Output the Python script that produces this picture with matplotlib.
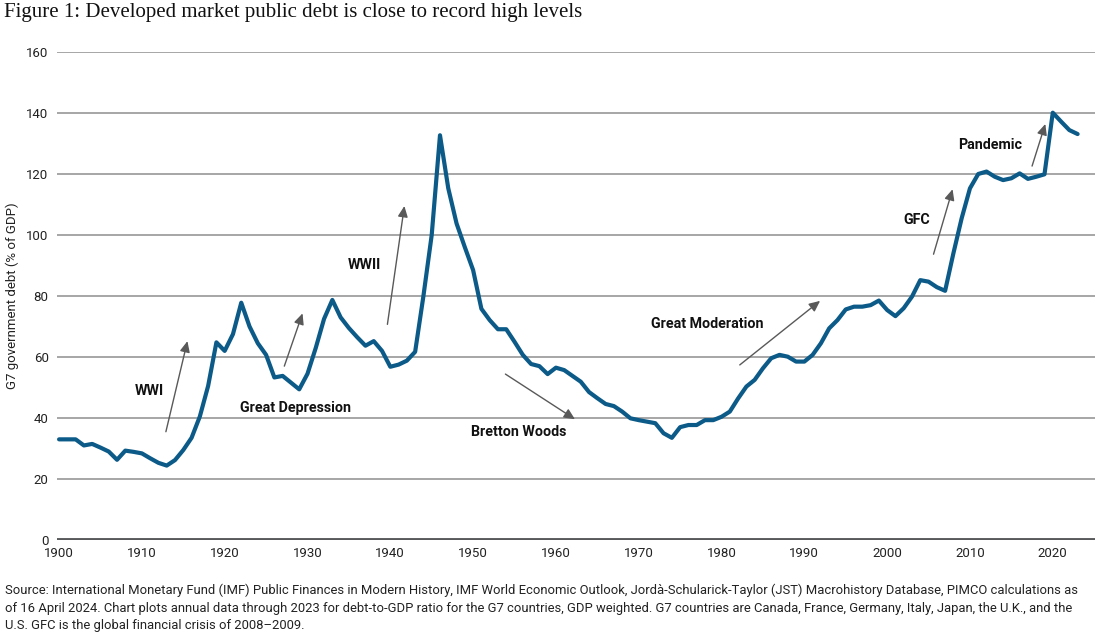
import matplotlib
matplotlib.use("Agg")
import matplotlib.pyplot as plt
import numpy as np

years = list(range(1900, 2024))
debt = [
    33.0, 33.0, 33.0, 31.0, 31.5, 30.3, 29.0, 26.3, 29.3, 28.9,   # 1900s
    28.4, 26.8, 25.3, 24.4, 26.2, 29.5, 33.5, 40.5, 50.5, 64.8,   # 1910s
    62.0, 67.5, 77.8, 70.0, 64.5, 60.7, 53.3, 53.8, 51.6, 49.4,   # 1920s
    54.5, 63.0, 72.5, 78.7, 73.0, 69.5, 66.5, 63.7, 65.2, 62.0,   # 1930s
    56.8, 57.5, 58.8, 61.7, 80.0, 100.0, 132.7, 115.3, 103.8, 96.0,  # 1940s
    88.5, 75.8, 72.1, 69.1, 69.1, 65.0, 60.7, 57.7, 57.0, 54.4,   # 1950s
    56.5, 55.7, 53.8, 51.9, 48.5, 46.5, 44.6, 43.9, 42.1, 39.9,   # 1960s
    39.3, 38.8, 38.3, 35.0, 33.5, 37.0, 37.7, 37.7, 39.3, 39.3,   # 1970s
    40.4, 42.1, 46.4, 50.3, 52.5, 56.3, 59.6, 60.7, 60.1, 58.5,   # 1980s
    58.5, 60.7, 64.5, 69.4, 72.1, 75.6, 76.5, 76.5, 77.0, 78.5,   # 1990s
    75.4, 73.4, 76.0, 79.8, 85.2, 84.7, 82.9, 81.7, 94.0, 105.5,  # 2000s
    115.3, 120.0, 120.8, 119.1, 118.0, 118.6, 120.2, 118.4, 119.1, 119.9,  # 2010s
    140.1, 137.2, 134.4, 133.1,                                   # 2020s
]

x_ticks = list(range(1900, 2021, 10))
y_ticks = list(range(0, 161, 20))

# (label, text position, arrow tail, arrow head)
annot_labels = ["WWI", "Great Depression", "WWII", "Bretton Woods",
                "Great Moderation", "GFC", "Pandemic"]
annot_text_xy = [(1910.9, 48.9), (1928.6, 43.3), (1936.9, 90.1), (1955.5, 35.5),
                 (1978.3, 70.8), (2003.6, 104.9), (2012.4, 129.5)]
arrow_tail = [(1912.9, 35.5), (1927.2, 57.0), (1939.65, 70.7), (1953.9, 54.4),
              (1982.2, 57.4), (2005.6, 93.7), (2017.5, 122.6)]
arrow_head = [(1915.5, 65.2), (1929.4, 74.3), (1941.7, 109.5), (1962.3, 39.6),
              (1991.9, 78.4), (2007.9, 115.0), (2019.1, 136.4)]

NARROW = ["Roboto", "DejaVu Sans"]
SERIF = ["Liberation Serif", "DejaVu Serif"]

fig = plt.figure(figsize=(11, 6.4), dpi=100)
ax = fig.add_axes([57 / 1100, 100 / 640, (1095 - 57) / 1100, 488 / 640])

ax.set_xlim(1899.75, 2025.1)
ax.set_ylim(0, 160)

for yv in y_ticks[1:]:
    ax.axhline(yv, color="#a6a6a6", lw=1.4, zorder=1)
ax.axhline(0, color="#58595b", lw=2.8, zorder=2)

ax.plot(years, debt, color="#0b5a88", lw=3.0, solid_joinstyle="round",
        solid_capstyle="round", zorder=5)

for s in ax.spines.values():
    s.set_visible(False)

ax.set_xticks(x_ticks)
ax.set_yticks(y_ticks)
ax.tick_params(axis="both", length=0, labelsize=9.5, colors="#222222")
ax.tick_params(axis="y", pad=6)
ax.tick_params(axis="x", pad=5)
for lbl in ax.get_xticklabels() + ax.get_yticklabels():
    lbl.set_family(NARROW)

ax.set_ylabel("G7 government debt (% of GDP)", family=NARROW, fontsize=9.5,
              color="#222222", labelpad=5)

for lab, txy, tail, head in zip(annot_labels, annot_text_xy, arrow_tail, arrow_head):
    ax.text(txy[0], txy[1], lab, ha="center", va="center", fontsize=10.3,
            fontweight="bold", family=NARROW, color="#111111", zorder=6)
    ax.annotate("", xy=head, xytext=tail,
                arrowprops=dict(arrowstyle="-|>,head_length=0.65,head_width=0.3",
                                color="#595959", lw=1.0, shrinkA=0, shrinkB=0),
                zorder=6)

fig.text(4 / 1100, 1 - 3 / 640,
         "Figure 1: Developed market public debt is close to record high levels",
         ha="left", va="top", fontsize=15, family=SERIF, color="#111111")

source = ("Source: International Monetary Fund (IMF) Public Finances in Modern History, IMF World Economic Outlook, "
          "Jordà-Schularick-Taylor (JST) Macrohistory Database, PIMCO calculations as\n"
          "of 16 April 2024. Chart plots annual data through 2023 for debt-to-GDP ratio for the G7 countries, "
          "GDP weighted. G7 countries are Canada, France, Germany, Italy, Japan, the U.K., and the\n"
          "U.S. GFC is the global financial crisis of 2008–2009.")
fig.text(5 / 1100, 1 - 584 / 640, source, ha="left", va="top", fontsize=9.4,
         family=NARROW, color="#222222", linespacing=1.45)

fig.savefig("out.png", dpi=100)
